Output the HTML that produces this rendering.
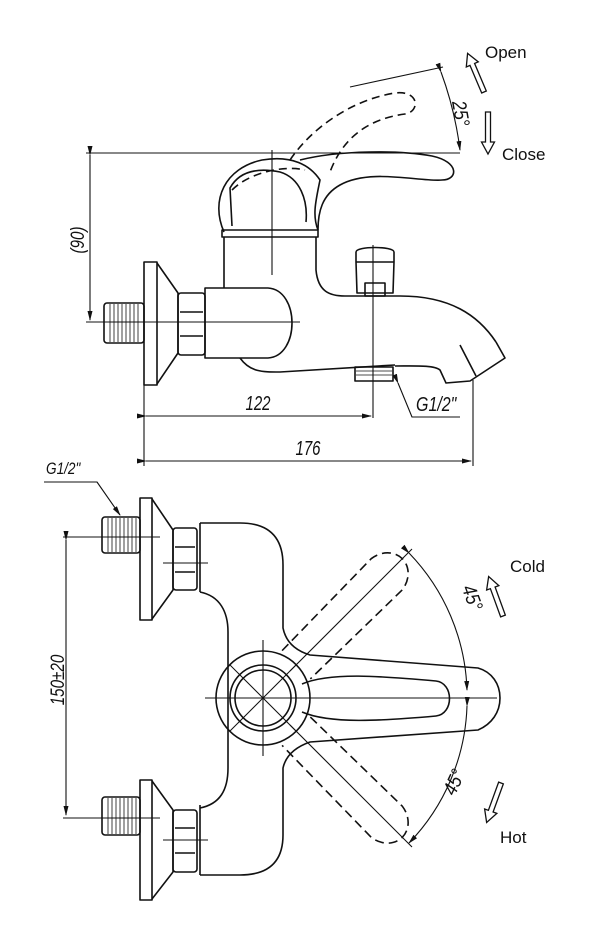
<!DOCTYPE html>
<html><head><meta charset="utf-8"><style>
html,body{margin:0;padding:0;background:#fff}
svg{display:block}
text{font-family:"Liberation Sans",sans-serif;fill:#111}
</style></head><body>
<svg width="609" height="950" viewBox="0 0 609 950" xmlns="http://www.w3.org/2000/svg">
<defs>
<marker id="ah" markerWidth="10" markerHeight="8" refX="9" refY="4" orient="auto" markerUnits="userSpaceOnUse">
<path d="M0,1.5 L10,4 L0,6.5 Z" fill="#111"/></marker>
<g id="harr"><polygon points="-2.5,0 -2.5,-30 -6.5,-30 0,-42 6.5,-30 2.5,-30 2.5,0" fill="#fff" stroke="#111" stroke-width="1.3"/></g>
</defs>
<g fill="none" stroke="#111" stroke-width="1.6" stroke-linejoin="round">
<line x1="86" y1="153" x2="460" y2="153" stroke-width="1.1"/>
<line x1="90" y1="155" x2="90" y2="320" stroke-width="1.1" marker-start="url(#ah)" marker-end="url(#ah)"/>
<line x1="86" y1="322" x2="300" y2="322" stroke-width="1.1"/>
<rect x="104" y="303" width="40" height="40" rx="3"/>
<g stroke-width="0.8"><line x1="110" y1="304" x2="110" y2="342"/><line x1="114" y1="304" x2="114" y2="342"/><line x1="118" y1="304" x2="118" y2="342"/><line x1="122" y1="304" x2="122" y2="342"/><line x1="126" y1="304" x2="126" y2="342"/><line x1="130" y1="304" x2="130" y2="342"/><line x1="134" y1="304" x2="134" y2="342"/><line x1="138" y1="304" x2="138" y2="342"/></g>
<rect x="144" y="262" width="13" height="123"/>
<path d="M157,263 L178,293 L178,353 L157,384"/>
<rect x="178" y="293" width="27" height="62" rx="3"/>
<line x1="180" y1="312" x2="203" y2="312"/><line x1="180" y1="336" x2="203" y2="336"/>
<path d="M205,288 L268,288 C300,290 300,356 268,358 L205,358 Z"/>
<line x1="212" y1="322" x2="300" y2="322" stroke-width="1.1"/>
<path d="M240,358 C250,372 262,372 280,372 L395,365"/>
<line x1="224" y1="237" x2="224" y2="288"/>
<path d="M316,237 L316,270 C318,292 330,296 345,296 L400,296 C450,296 478,315 496,342"/>
<path d="M222,230 L318,230 L318,237 L222,237 Z"/>
<path d="M224,232 C210,200 225,168 262,160 C292,155 310,165 320,180 C316,200 312,215 318,230"/>
<path d="M300,160 C340,150 400,150 432,156 C460,162 458,180 442,180 C420,182 370,168 340,185 C322,195 318,212 318,230"/>
<path d="M232,226 L230,188 C240,170 260,168 280,172 C300,178 308,200 306,222" />
<path d="M290,160 C310,130 350,100 395,93 C420,90 420,112 405,114 C375,118 345,132 330,172" stroke-dasharray="8,5"/>
<path d="M232,190 C250,172 285,165 305,170" stroke-dasharray="8,5"/>
<line x1="272" y1="150" x2="272" y2="275" stroke-width="1.1"/>
<path d="M356,252 C356,246 394,246 394,252 L394,262 L393,293 L357,293 L356,262 Z"/>
<line x1="356" y1="262" x2="394" y2="262"/>
<rect x="365" y="283" width="20" height="13"/>
<line x1="373" y1="245" x2="373" y2="418" stroke-width="1.1"/>
<path d="M496,342 L505,358 L470,381 L446,383 L440,370 C434,365 415,366 395,366"/>
<line x1="460" y1="345" x2="476" y2="376"/>
<rect x="355" y="367" width="38" height="14"/>
<line x1="356" y1="371" x2="392" y2="371" stroke-width="0.8"/><line x1="356" y1="375" x2="392" y2="375" stroke-width="0.8"/>
<polyline points="398,383 412,417 460,417" stroke-width="1.1" marker-start="url(#ah)"/>
<line x1="144" y1="385" x2="144" y2="466" stroke-width="1.1"/>
<line x1="473" y1="380" x2="473" y2="466" stroke-width="1.1"/>
<line x1="146" y1="416" x2="371" y2="416" stroke-width="1.1" marker-start="url(#ah)" marker-end="url(#ah)"/>
<line x1="146" y1="461" x2="471" y2="461" stroke-width="1.1" marker-start="url(#ah)" marker-end="url(#ah)"/>
<line x1="350" y1="87" x2="443" y2="67" stroke-width="1.1"/>
<path d="M441,72 Q455,110 460,150" stroke-width="1.1" marker-start="url(#ah)" marker-end="url(#ah)"/>
<polyline points="44,482 97,482 120,515" stroke-width="1.1" marker-end="url(#ah)"/>
<line x1="63" y1="537" x2="160" y2="537" stroke-width="1.1"/>
<line x1="63" y1="818" x2="160" y2="818" stroke-width="1.1"/>
<line x1="66" y1="540" x2="66" y2="815" stroke-width="1.1" marker-start="url(#ah)" marker-end="url(#ah)"/>
<rect x="102" y="517" width="38" height="36" rx="3"/>
<g stroke-width="0.8"><line x1="108" y1="518" x2="108" y2="552"/><line x1="112" y1="518" x2="112" y2="552"/><line x1="116" y1="518" x2="116" y2="552"/><line x1="120" y1="518" x2="120" y2="552"/><line x1="124" y1="518" x2="124" y2="552"/><line x1="128" y1="518" x2="128" y2="552"/><line x1="132" y1="518" x2="132" y2="552"/><line x1="136" y1="518" x2="136" y2="552"/></g>
<rect x="140" y="498" width="12" height="122"/>
<path d="M152,499 L173,530 L173,590 L152,619"/>
<rect x="173" y="528" width="24" height="62" rx="3"/>
<line x1="175" y1="547" x2="195" y2="547"/><line x1="175" y1="572" x2="195" y2="572"/>
<line x1="163" y1="563" x2="208" y2="563" stroke-width="1.1"/>
<rect x="102" y="797" width="38" height="38" rx="3"/>
<g stroke-width="0.8"><line x1="108" y1="798" x2="108" y2="834"/><line x1="112" y1="798" x2="112" y2="834"/><line x1="116" y1="798" x2="116" y2="834"/><line x1="120" y1="798" x2="120" y2="834"/><line x1="124" y1="798" x2="124" y2="834"/><line x1="128" y1="798" x2="128" y2="834"/><line x1="132" y1="798" x2="132" y2="834"/><line x1="136" y1="798" x2="136" y2="834"/></g>
<rect x="140" y="780" width="12" height="120"/>
<path d="M152,781 L173,810 L173,872 L152,899"/>
<rect x="173" y="810" width="24" height="62" rx="3"/>
<line x1="175" y1="828" x2="195" y2="828"/><line x1="175" y1="853" x2="195" y2="853"/>
<line x1="163" y1="840" x2="208" y2="840" stroke-width="1.1"/>
<path d="M200,523 L240,523 Q283,523 283,565 L283,628 Q287,648 310,655 L478,668 C492,672 500,684 500,698 C500,712 492,724 478,730 L310,742 Q287,750 283,768 L283,835 Q283,875 240,875 L200,875"/>
<line x1="200" y1="523" x2="200" y2="592"/><line x1="200" y1="805" x2="200" y2="875"/>
<path d="M200,592 C220,596 228,612 228,632 L228,768 C228,790 220,804 200,808"/>
<path d="M302,684 C330,672 380,676 436,681 C454,683 454,714 436,716 C380,721 330,724 302,712"/>
<g transform="rotate(-45 263 698)" stroke-dasharray="9,5">
<path d="M310,678 L438,676 C452,678 460,688 460,698 C460,708 452,718 438,720 L310,718"/>
</g>
<g transform="rotate(45 263 698)" stroke-dasharray="9,5">
<path d="M310,678 L438,676 C452,678 460,688 460,698 C460,708 452,718 438,720 L310,718"/>
</g>
<circle cx="263" cy="698" r="47"/>
<circle cx="263" cy="698" r="33"/>
<circle cx="263" cy="698" r="28"/>
<line x1="205" y1="698" x2="497" y2="698" stroke-width="1.1"/>
<line x1="263" y1="640" x2="263" y2="756" stroke-width="1.1"/>
<line x1="230" y1="665" x2="296" y2="731" stroke-width="1"/>
<line x1="230" y1="731" x2="296" y2="665" stroke-width="1"/>
<line x1="290" y1="671" x2="412" y2="549" stroke-width="1.1"/>
<line x1="290" y1="725" x2="412" y2="847" stroke-width="1.1"/>
<path d="M409,553 A207,207 0 0 1 467,690" stroke-width="1.1" marker-start="url(#ah)" marker-end="url(#ah)"/>
<path d="M467,706 A207,207 0 0 1 409,843" stroke-width="1.1" marker-start="url(#ah)" marker-end="url(#ah)"/>
</g>
<use href="#harr" transform="translate(484,92) rotate(-23)"/>
<use href="#harr" transform="translate(488,112) rotate(180)"/>
<use href="#harr" transform="translate(503,616) rotate(-20)"/>
<use href="#harr" transform="translate(501,783) rotate(200)"/>
<text x="485" y="58" font-size="17">Open</text>
<text x="502" y="160" font-size="17">Close</text>
<text x="510" y="572" font-size="17">Cold</text>
<text x="500" y="843" font-size="17">Hot</text>
<g font-style="italic">
<text transform="translate(258,410) scale(0.75,1)" text-anchor="middle" font-size="20">122</text>
<text transform="translate(308,455) scale(0.75,1)" text-anchor="middle" font-size="20">176</text>
<text transform="translate(416,411) scale(0.8,1)" font-size="20">G1/2"</text>
<text transform="translate(46,474) scale(0.8,1)" font-size="17">G1/2"</text>
<text transform="translate(84,240) rotate(-90) scale(0.8,1)" text-anchor="middle" font-size="19">(90)</text>
<text transform="translate(64,680) rotate(-90) scale(0.8,1)" text-anchor="middle" font-size="19">150±20</text>
<text transform="translate(452,102) rotate(80) scale(0.85,1)" font-size="20">25°</text>
<text transform="translate(466,600) rotate(70) scale(0.85,1)" font-size="20" text-anchor="middle">45°</text>
<text transform="translate(460,785) rotate(-65) scale(0.85,1)" font-size="20" text-anchor="middle">45°</text>
</g>
</svg>
</body></html>
